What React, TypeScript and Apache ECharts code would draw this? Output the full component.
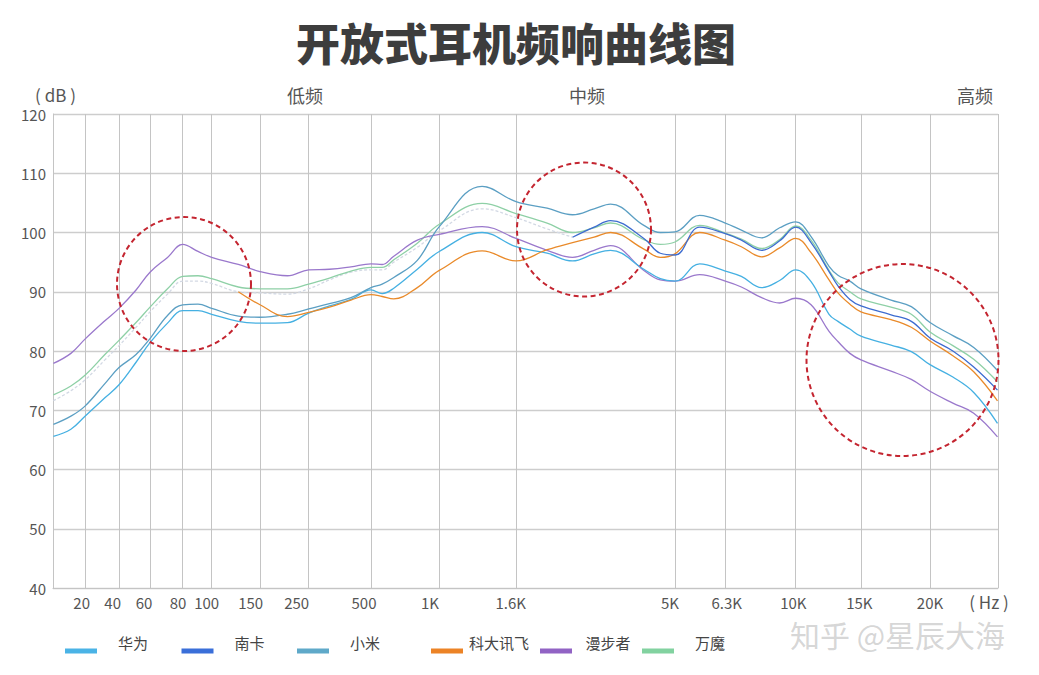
import React, { useEffect, useRef } from "react";
import * as echarts from "echarts";

const FONT = '"Noto Sans CJK SC", "Noto Sans", sans-serif';

// ---- x axis: non-uniform frequency scale (axis units 0..AXIS_MAX) ----
const tickFreqs = [20, 40, 60, 80, 100, 150, 250, 500, 1000, 1600, 5000, 6300, 10000, 15000, 20000];
const tickLabels = ["20", "40", "60", "80", "100", "150", "250", "500", "1K", "1.6K", "5K", "6.3K", "10K", "15K", "20K"];
const tickPos = [32, 66, 97, 129.7, 158.7, 207, 255.7, 318, 386.3, 463, 622, 672.3, 742.7, 808, 877];
const labelPos = [28.7, 59.7, 91, 125, 153.7, 197.7, 243.7, 311, 377, 457.7, 617, 673.7, 740.3, 806.3, 877];
const AXIS_MAX = 945;

// ---- measurement frequencies (Hz) ----
const freqs = [
  10.5, 15, 20, 30, 40, 50, 60, 70, 80, 90,
  100, 125, 150, 200, 250, 315, 400, 500, 560, 630,
  800, 1000, 1300, 1600, 2000, 2400, 2800, 3150, 4000, 4500,
  5000, 5600, 6300, 7000, 8000, 9000, 10000, 11000, 12300, 13000,
  14000, 15000, 17000, 18500, 20000, 22000, 24000, 26500,
];

const huawei = [
  65.6, 66.8, 69.0, 72.1, 74.3, 78.1, 81.4, 84.7, 86.8, 86.8,
  86.2, 85.0, 84.7, 84.8, 86.4, 87.6, 88.7, 90.3, 89.7, 90.6,
  93.8, 96.8, 100.0, 97.6, 96.5, 95.2, 96.4, 97.0, 93.8, 92.2,
  91.8, 94.7, 93.5, 92.6, 90.7, 91.9, 93.7, 91.7, 86.2, 85.0,
  83.7, 82.5, 81.0, 79.9, 77.7, 75.6, 73.0, 67.8,
];
const nanka = [
  71.6, 73.3, 75.1, 78.5, 80.9, 84.0, 86.6, 89.6, 91.8, 91.8,
  91.4, 90.0, 89.8, 89.6, 90.5, 92.0, 93.3, 93.7, 93.7, 95.0,
  97.5, 100.3, 104.0, 102.5, 100.6, 99.2, 100.9, 102.0, 99.0, 96.5,
  96.2, 100.9, 99.8, 98.7, 97.0, 98.6, 100.9, 98.3, 93.4, 91.0,
  88.7, 87.6, 86.1, 85.0, 82.2, 80.0, 77.3, 73.4,
];
const xiaomi = [
  67.6, 69.0, 70.7, 74.5, 77.2, 79.4, 82.1, 86.0, 87.8, 87.9,
  87.2, 85.9, 85.7, 86.2, 87.1, 88.0, 89.0, 90.7, 91.3, 92.4,
  95.3, 101.0, 107.8, 105.2, 104.1, 103.0, 104.0, 104.8, 101.2, 100.0,
  100.1, 102.9, 101.6, 100.4, 99.1, 100.8, 101.8, 99.3, 94.3, 92.8,
  91.8, 90.5, 88.6, 87.5, 84.8, 82.6, 80.6, 76.7,
];
const iflytek = [
  null, null, null, null, null, null, null, null, null, null,
  null, 90.0, 87.8, 85.8, 86.5, 87.4, 88.6, 89.5, 89.2, 88.8,
  90.7, 93.6, 96.9, 95.2, 97.1, 98.3, 99.2, 100.0, 97.2, 95.8,
  96.4, 100.0, 98.7, 97.6, 95.9, 97.4, 99.0, 96.6, 92.0, 89.8,
  87.9, 86.6, 85.3, 84.0, 81.7, 79.2, 76.5, 71.6,
];
const edifier = [
  77.9, 79.6, 82.0, 85.1, 87.2, 90.3, 93.3, 95.8, 98.0, 96.8,
  95.8, 94.6, 93.4, 92.7, 93.7, 93.8, 94.2, 94.7, 94.6, 96.0,
  98.7, 99.7, 101.0, 99.0, 97.0, 95.8, 97.0, 97.8, 93.6, 92.0,
  91.8, 92.9, 91.8, 90.8, 89.0, 88.1, 88.9, 87.8, 83.3, 81.6,
  79.6, 78.5, 76.6, 75.2, 73.2, 71.2, 69.5, 65.5,
];
const onemore = [
  72.6, 74.1, 75.9, 79.4, 81.8, 84.8, 87.4, 90.5, 92.6, 92.7,
  92.2, 90.8, 90.5, 90.5, 91.3, 92.3, 93.5, 94.1, 94.1, 95.4,
  98.2, 101.4, 104.9, 103.2, 101.6, 100.0, 100.8, 101.6, 98.8, 98.0,
  98.4, 101.2, 99.9, 98.9, 97.3, 98.8, 101.1, 98.7, 93.6, 91.5,
  90.0, 88.8, 87.4, 86.2, 83.2, 80.9, 78.6, 74.8,
];
// 南卡 is drawn faded below this frequency, as in the picture
const NANKA_FADE_UNTIL = 2400;

const seriesNames = ["华为", "南卡", "小米", "科大讯飞", "漫步者", "万魔"];
const seriesColors = ["#45b0e2", "#3d6cd0", "#5b9fc3", "#e98a2a", "#9a78cc", "#8ed0a6"];
const legendColors = ["#4ab3e6", "#3a6fd9", "#5fa9c9", "#ec8326", "#9163c4", "#82d2a0"];
const legendLeft = [60, 176.5, 292, 426, 535, 637];

function freqToPos(f: number): number {
  const n = tickFreqs.length;
  let i = 0;
  if (f <= tickFreqs[0]) i = 0;
  else if (f >= tickFreqs[n - 1]) i = n - 2;
  else {
    for (let k = 0; k < n - 1; k++) {
      if (f >= tickFreqs[k] && f < tickFreqs[k + 1]) { i = k; break; }
    }
  }
  const t = (Math.log(f) - Math.log(tickFreqs[i])) / (Math.log(tickFreqs[i + 1]) - Math.log(tickFreqs[i]));
  return tickPos[i] + t * (tickPos[i + 1] - tickPos[i]);
}

function toData(vals: (number | null)[], from = 0, to = vals.length) {
  const out: any[] = [];
  for (let i = from; i < to; i++) out.push([freqToPos(freqs[i]), vals[i]]);
  return out;
}

const ICON = "path://M0,0L0.04,0L0.04,0.04L0,0.04Z M0,17L32,17L32,22L0,22Z";

export default function App() {
  const ref = useRef<HTMLDivElement>(null);
  useEffect(() => {
    document.body.style.margin = "0";
    const chart = echarts.init(ref.current!, null, { renderer: "svg" });
    const fadeIdx = freqs.indexOf(NANKA_FADE_UNTIL);

    const line = (name: string, data: any[], color: string, z = 2, extra: any = {}) => ({
      type: "line",
      name,
      data,
      smooth: 0.4,
      showSymbol: false,
      symbol: "none",
      z,
      color,
      lineStyle: { color, width: 1.3 },
      itemStyle: { color },
      ...extra,
    });

    const label = (t: string, x: number, y: number, size: number) => ({
      type: "text",
      x,
      y,
      style: {
        text: t,
        fill: "#555",
        fontSize: size,
        lineHeight: size,
        fontFamily: FONT,
        align: "center",
        verticalAlign: "middle",
        textAlign: "center",
        textVerticalAlign: "middle",
      },
    });

    const option: any = {
      animation: false,
      backgroundColor: "#ffffff",
      grid: { left: 53, right: 41, top: 114, bottom: 87, containLabel: false },
      xAxis: [
        {
          type: "value",
          min: 0,
          max: AXIS_MAX,
          position: "bottom",
          axisLine: { show: true, lineStyle: { color: "#c4c4c4", width: 1 } },
          axisTick: { show: false, customValues: [...tickPos, AXIS_MAX] },
          axisLabel: { show: false },
          splitLine: { show: true, lineStyle: { color: "#c4c4c4", width: 1 } },
        },
        {
          type: "value",
          min: 0,
          max: AXIS_MAX,
          position: "bottom",
          offset: 0,
          axisLine: { show: false },
          axisTick: { show: false },
          splitLine: { show: false },
          axisLabel: {
            show: true,
            customValues: labelPos,
            margin: 7,
            color: "#555",
            fontSize: 15,
            fontFamily: FONT,
            formatter: (v: number) => {
              let best = 0;
              for (let k = 0; k < labelPos.length; k++) {
                if (Math.abs(labelPos[k] - v) < Math.abs(labelPos[best] - v)) best = k;
              }
              return tickLabels[best];
            },
          },
        },
      ],
      yAxis: {
        type: "value",
        min: 40,
        max: 120,
        interval: 10,
        axisLine: { show: true, lineStyle: { color: "#c4c4c4" } },
        axisTick: { show: false },
        axisLabel: { color: "#555", fontSize: 15, fontFamily: FONT, margin: 7 },
        splitLine: { lineStyle: { color: "#cdcdcd", width: 1.3 } },
      },
      legend: seriesNames.map((name, i) => ({
        data: [{ name, icon: ICON, itemStyle: { color: legendColors[i], borderWidth: 0 } }],
        left: legendLeft[i],
        top: 626.5,
        itemWidth: 32,
        itemHeight: 22,
        selectedMode: false,
        itemStyle: { borderWidth: 0 },
        formatter: (n: string) => `{t|${n}}`,
        textStyle: {
          rich: { t: { width: 62, align: "center", fontSize: 15, color: "#444", fontFamily: FONT } },
        },
      })),
      series: [
        line("", toData(nanka, 0, fadeIdx + 1), "#d3d9e4", 1, {
          lineStyle: { color: "#d3d9e4", width: 1.3, type: [3, 2] },
          silent: true,
        }),
        line("万魔", toData(onemore), seriesColors[5], 2),
        line("漫步者", toData(edifier), seriesColors[4], 3),
        line("华为", toData(huawei), seriesColors[0], 4),
        line("小米", toData(xiaomi), seriesColors[2], 5),
        line("科大讯飞", toData(iflytek), seriesColors[3], 6),
        line("南卡", toData(nanka, fadeIdx), seriesColors[1], 7),
      ],
      graphic: [
        {
          type: "text",
          x: 516,
          y: 42,
          style: {
            text: "开放式耳机频响曲线图",
            fill: "#3d3d3d",
            fontSize: 44,
            lineHeight: 44,
            fontWeight: 900,
            fontFamily: FONT,
            align: "center",
            verticalAlign: "middle",
            textAlign: "center",
            textVerticalAlign: "middle",
          },
        },
        label("( dB )", 55.5, 94, 17),
        label("低频", 305, 95, 18),
        label("中频", 587, 95, 18),
        label("高频", 975, 95, 18),
        label("( Hz )", 989, 601, 17),
        {
          type: "text",
          x: 790,
          y: 634,
          z: 50,
          style: {
            text: "知乎 @星辰大海",
            fill: "rgba(150,150,150,0.4)",
            fontSize: 30,
            lineHeight: 30,
            fontFamily: FONT,
            align: "left",
            verticalAlign: "middle",
            textAlign: "left",
            textVerticalAlign: "middle",
          },
        },
        ...[
          [184, 284, 67],
          [584, 229.5, 67],
          [902.5, 360, 96],
        ].map(([cx, cy, r]) => ({
          type: "circle",
          z: 100,
          shape: { cx, cy, r },
          style: { fill: "none", stroke: "#c42530", lineWidth: 2, lineDash: [5, 3.5] },
        })),
      ],
    };
    chart.setOption(option);
    return () => chart.dispose();
  }, []);
  return <div ref={ref} style={{ width: 1039, height: 675, background: "#fff" }} />;
}
